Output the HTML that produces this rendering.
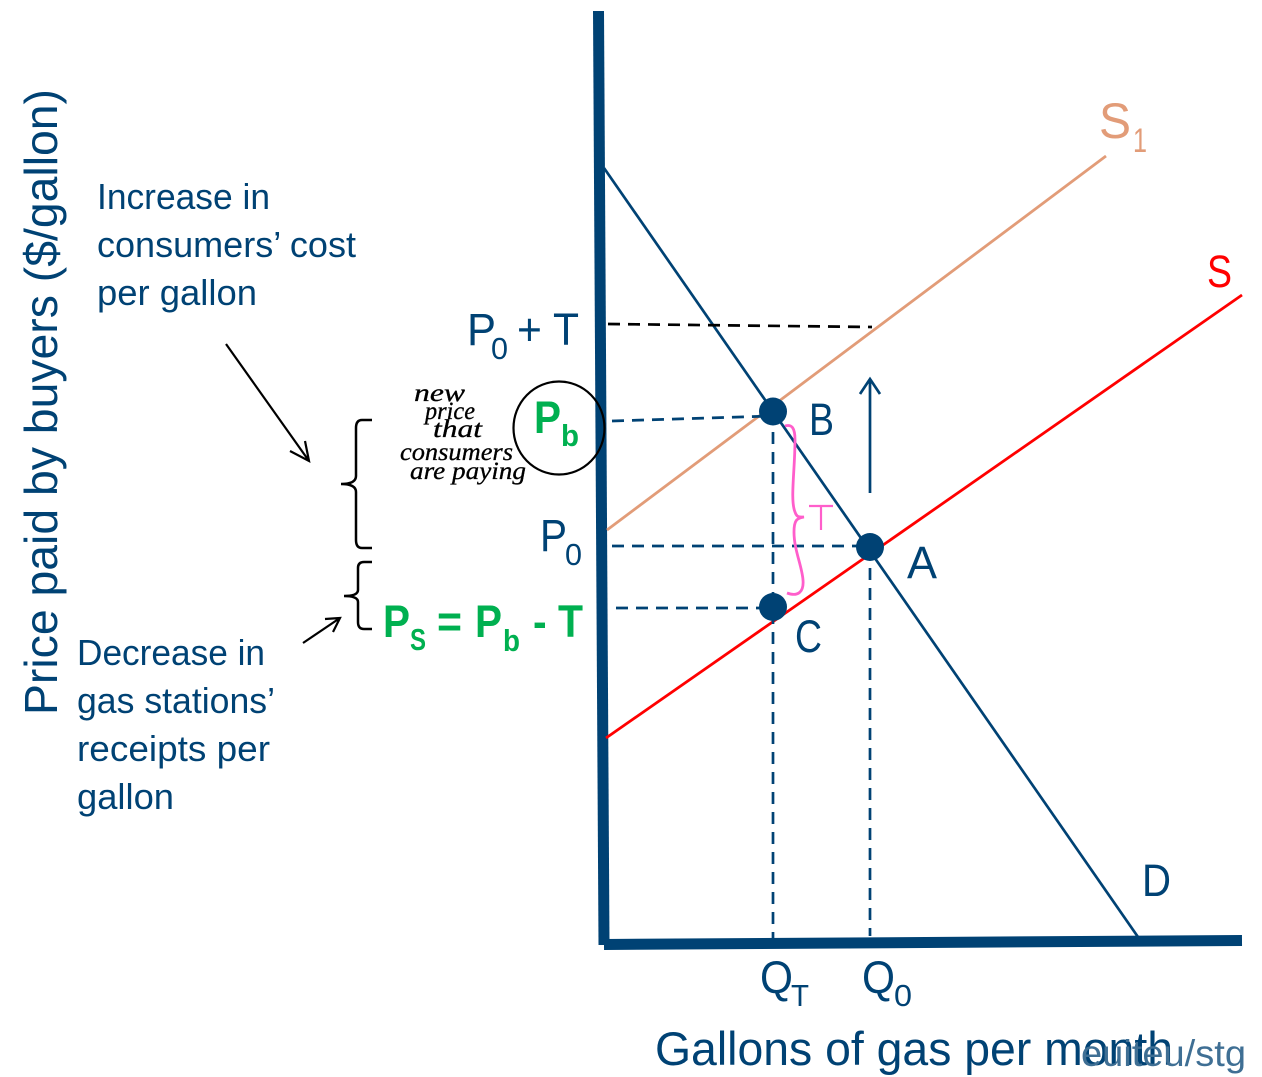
<!DOCTYPE html>
<html><head><meta charset="utf-8">
<style>
html,body{margin:0;padding:0;background:#fff;width:1262px;height:1077px;overflow:hidden}
svg{display:block}
text{font-family:"Liberation Sans",sans-serif;fill:#004274}
.g{fill:#00b050;font-weight:bold}
.h{font-family:"Liberation Serif",serif;font-style:italic;fill:#000;stroke:#000;stroke-width:.3px}
</style></head><body>
<svg width="1262" height="1077" viewBox="0 0 1262 1077" xmlns="http://www.w3.org/2000/svg">
<!-- axes -->
<line x1="598.500" y1="11" x2="604" y2="945" stroke="#004274" stroke-width="11"/>
<line x1="604" y1="944.500" x2="1242" y2="940.500" stroke="#004274" stroke-width="11"/>
<!-- curves -->
<line x1="604" y1="168" x2="1138" y2="937" stroke="#004274" stroke-width="2.700"/>
<line x1="607" y1="530" x2="1106" y2="156" stroke="#e29c78" stroke-width="2.800"/>
<line x1="606" y1="738" x2="1242" y2="295" stroke="#ff0000" stroke-width="2.800"/>
<!-- dashes -->
<g fill="none" stroke-width="2.700" stroke-dasharray="12 8">
<line x1="608" y1="324" x2="872" y2="327" stroke="#000"/>
<line x1="612" y1="421" x2="772" y2="416" stroke="#004274"/>
<line x1="612" y1="546" x2="870" y2="546" stroke="#004274"/>
<line x1="616" y1="608" x2="773" y2="608" stroke="#004274"/>
<line x1="773" y1="412" x2="773" y2="938" stroke="#004274"/>
<line x1="870" y1="548" x2="870" y2="936" stroke="#004274"/>
</g>
<!-- points -->
<circle cx="773" cy="411.500" r="14" fill="#004274"/>
<circle cx="870" cy="547" r="14" fill="#004274"/>
<circle cx="773" cy="607" r="14" fill="#004274"/>
<!-- up arrow -->
<path d="M870 493V379M860 394L870 379L880 394" fill="none" stroke="#004274" stroke-width="2.700"/>
<!-- pink brace -->
<path d="M785 426C792 424 795 428 795 440C795 470 790 500 795 512C797 518 800 517 804 517C797 518 794 520 794 532C794 550 802 566 803 580C804 592 798 597 787 593" fill="none" stroke="#ff5ecb" stroke-width="2.800"/>
<path d="M809 506H833M821 506V530" fill="none" stroke="#ff5ecb" stroke-width="2.200"/>
<!-- black circle -->
<ellipse cx="559" cy="428" rx="45.500" ry="46.500" fill="none" stroke="#000" stroke-width="2.200"/>
<!-- braces -->
<path d="M372 420H362Q356 420 356 428V476Q356 484 341 484Q356 484 356 492V540Q356 548 362 548H372" fill="none" stroke="#000" stroke-width="2.500"/>
<path d="M372 562H364Q358 562 358 568V590Q358 596 344 596Q358 596 358 602V622Q358 629 364 629H372" fill="none" stroke="#000" stroke-width="2.500"/>
<!-- black arrows -->
<path d="M226 344L309 461M305 441L309 461L290 451" fill="none" stroke="#000" stroke-width="2.200"/>
<path d="M303 643L340 618M325 619L340 618L333 632" fill="none" stroke="#000" stroke-width="2.200"/>
<!-- axis labels -->
<text transform="translate(57 715) rotate(-90)" font-size="46" textLength="626" lengthAdjust="spacingAndGlyphs">Price paid by buyers ($/gallon)</text>
<text x="655" y="1065" font-size="47" textLength="518" lengthAdjust="spacingAndGlyphs">Gallons of gas per month</text>
<text x="1081" y="1066" font-size="37" textLength="165" lengthAdjust="spacingAndGlyphs" style="fill:#3f6f94">euiteu/stg</text>
<!-- left annotations -->
<g font-size="36">
<text x="97" y="209" textLength="173" lengthAdjust="spacingAndGlyphs">Increase in</text>
<text x="97" y="257" textLength="259" lengthAdjust="spacingAndGlyphs">consumers’ cost</text>
<text x="97" y="305" textLength="160" lengthAdjust="spacingAndGlyphs">per gallon</text>
<text x="77" y="665" textLength="188" lengthAdjust="spacingAndGlyphs">Decrease in</text>
<text x="77" y="713" textLength="198" lengthAdjust="spacingAndGlyphs">gas stations’</text>
<text x="77" y="761" textLength="193" lengthAdjust="spacingAndGlyphs">receipts per</text>
<text x="77" y="809" textLength="97" lengthAdjust="spacingAndGlyphs">gallon</text>
</g>
<!-- price labels -->
<text x="467" y="345" font-size="45" textLength="29" lengthAdjust="spacingAndGlyphs">P</text>
<text x="491" y="359" font-size="31" textLength="17" lengthAdjust="spacingAndGlyphs">0</text>
<text x="517" y="345" font-size="45" textLength="62" lengthAdjust="spacingAndGlyphs">+ T</text>
<text x="540" y="551" font-size="45" textLength="27" lengthAdjust="spacingAndGlyphs">P</text>
<text x="565" y="565" font-size="31" textLength="17" lengthAdjust="spacingAndGlyphs">0</text>
<text x="534" y="433" class="g" font-size="45" textLength="27" lengthAdjust="spacingAndGlyphs">P</text>
<text x="561" y="446" class="g" font-size="31" textLength="18" lengthAdjust="spacingAndGlyphs">b</text>
<text x="383" y="637" class="g" font-size="45" textLength="27" lengthAdjust="spacingAndGlyphs">P</text>
<text x="410" y="650" class="g" font-size="31" textLength="16" lengthAdjust="spacingAndGlyphs">S</text>
<text x="437" y="637" class="g" font-size="45" textLength="25" lengthAdjust="spacingAndGlyphs">=</text>
<text x="475" y="637" class="g" font-size="45" textLength="27" lengthAdjust="spacingAndGlyphs">P</text>
<text x="503" y="651" class="g" font-size="31" textLength="17" lengthAdjust="spacingAndGlyphs">b</text>
<text x="533" y="637" class="g" font-size="45" textLength="50" lengthAdjust="spacingAndGlyphs">- T</text>
<!-- point labels -->
<text x="809" y="435" font-size="45" textLength="25" lengthAdjust="spacingAndGlyphs">B</text>
<text x="907" y="578" font-size="45" textLength="30" lengthAdjust="spacingAndGlyphs">A</text>
<text x="795" y="652" font-size="45" textLength="27" lengthAdjust="spacingAndGlyphs">C</text>
<text x="1142" y="896" font-size="45" textLength="29" lengthAdjust="spacingAndGlyphs">D</text>
<text x="1207" y="287" font-size="45" textLength="25" lengthAdjust="spacingAndGlyphs" style="fill:#ff0000">S</text>
<text x="1099" y="138" font-size="50" textLength="32" lengthAdjust="spacingAndGlyphs" style="fill:#e29c78">S</text>
<text x="1133" y="152" font-size="34" textLength="14" lengthAdjust="spacingAndGlyphs" style="fill:#e29c78">1</text>
<!-- Q labels -->
<text x="760" y="993" font-size="45" textLength="33" lengthAdjust="spacingAndGlyphs">Q</text>
<text x="791" y="1006" font-size="31" textLength="18" lengthAdjust="spacingAndGlyphs">T</text>
<text x="862" y="993" font-size="45" textLength="33" lengthAdjust="spacingAndGlyphs">Q</text>
<text x="894" y="1006" font-size="31" textLength="18" lengthAdjust="spacingAndGlyphs">0</text>
<!-- handwriting -->
<text x="414" y="401" class="h" font-size="25" textLength="51" lengthAdjust="spacingAndGlyphs">new</text>
<text x="425" y="419" class="h" font-size="25" textLength="50" lengthAdjust="spacingAndGlyphs">price</text>
<text x="433" y="437" class="h" font-size="25" textLength="49" lengthAdjust="spacingAndGlyphs">that</text>
<text x="400" y="460" class="h" font-size="25" textLength="113" lengthAdjust="spacingAndGlyphs">consumers</text>
<text x="410" y="479" class="h" font-size="25" textLength="116" lengthAdjust="spacingAndGlyphs">are paying</text>
</svg>
</body></html>
